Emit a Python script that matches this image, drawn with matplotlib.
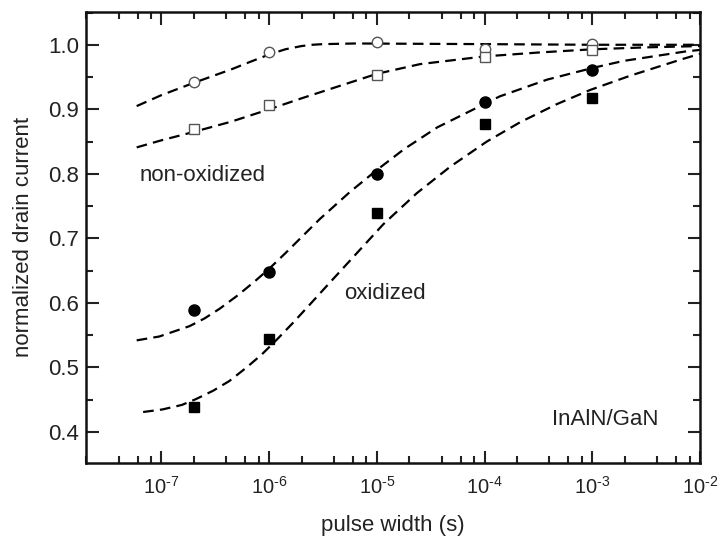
import numpy as np
import matplotlib
matplotlib.use("Agg")
import matplotlib.pyplot as plt
from matplotlib.ticker import LogLocator, MultipleLocator

plt.rcParams['font.family'] = ['Liberation Sans', 'DejaVu Sans']
plt.rcParams['mathtext.fontset'] = 'custom'
plt.rcParams['mathtext.rm'] = 'Liberation Sans'

# measured pulse widths (s)
pulse = [2e-7, 1e-6, 1e-5, 1e-4, 1e-3]

# normalized drain current
nonox_circ = [0.943, 0.989, 1.004, 0.993, 1.001]
nonox_sq = [0.869, 0.907, 0.953, 0.981, 0.992]
ox_circ = [0.589, 0.648, 0.800, 0.912, 0.961]
ox_sq = [0.439, 0.544, 0.739, 0.877, 0.918]

# fit curves (log10 of pulse width, current)
fit1_logt = [-7.23, -7.0, -6.7, -6.5, -6.35, -6.2, -6.0, -5.85, -5.7, -5.6, -5.5, -5.2, -4.0, -3.0, -2.0]
fit1_i = [0.905, 0.922, 0.941, 0.953, 0.962, 0.972, 0.985, 0.993, 0.998, 1.000, 1.001, 1.002, 1.001, 1.000, 1.000]

fit2_logt = [-7.23, -7.0, -6.7, -6.35, -6.0, -5.7, -5.35, -5.0, -4.6, -4.0, -3.5, -3.0, -2.5, -2.0]
fit2_i = [0.841, 0.852, 0.865, 0.881, 0.900, 0.917, 0.936, 0.955, 0.970, 0.982, 0.988, 0.993, 0.996, 0.998]

fit3_logt = [-7.23, -7.02, -6.74, -6.6, -6.46, -6.29, -6.13, -6.0, -5.85, -5.53, -5.25, -5.0, -4.75,
             -4.44, -3.86, -3.42, -3.0, -2.71, -2.12, -2.0]
fit3_i = [0.542, 0.548, 0.564, 0.576, 0.591, 0.612, 0.634, 0.653, 0.677, 0.730, 0.772, 0.806, 0.838,
          0.872, 0.920, 0.946, 0.964, 0.975, 0.990, 0.992]

fit4_logt = [-7.17, -6.99, -6.81, -6.68, -6.52, -6.37, -6.21, -6.07, -5.93, -5.78, -5.62, -5.5, -5.22,
             -4.94, -4.63, -4.32, -3.98, -3.67, -3.33, -3.02, -2.65, -2.18, -2.0]
fit4_i = [0.431, 0.435, 0.442, 0.451, 0.464, 0.479, 0.500, 0.520, 0.543, 0.569, 0.598, 0.620, 0.671,
          0.722, 0.770, 0.811, 0.850, 0.880, 0.908, 0.930, 0.952, 0.977, 0.986]

xtick_vals = [1e-7, 1e-6, 1e-5, 1e-4, 1e-3, 1e-2]
xtick_labels = [r'$10^{\text{-}7}$', r'$10^{\text{-}6}$', r'$10^{\text{-}5}$',
                r'$10^{\text{-}4}$', r'$10^{\text{-}3}$', r'$10^{\text{-}2}$']

fig = plt.figure(figsize=(7.18, 5.39), dpi=100)
ax = fig.add_axes([0.12, 0.141, 0.855, 0.837])

dash = (0, (4.8, 2.8))
for lt, yi in [(fit1_logt, fit1_i), (fit2_logt, fit2_i), (fit3_logt, fit3_i), (fit4_logt, fit4_i)]:
    ax.plot(10.0 ** np.array(lt), yi, color='black', lw=1.6, linestyle=dash, zorder=2)

ax.plot(pulse, nonox_circ, 'o', ms=7.5, mfc='white', mec='#555555', mew=1.0, ls='none', zorder=3)
ax.plot(pulse, nonox_sq, 's', ms=7, mfc='white', mec='#555555', mew=1.0, ls='none', zorder=3)
ax.plot(pulse, ox_circ, 'o', ms=8, mfc='black', mec='black', ls='none', zorder=3)
ax.plot(pulse, ox_sq, 's', ms=7, mfc='black', mec='black', ls='none', zorder=3)

ax.set_xscale('log')
ax.set_xlim(2e-8, 1e-2)
ax.set_ylim(0.352, 1.051)

ax.set_xticks(xtick_vals)
ax.set_xticklabels(xtick_labels)
ax.xaxis.set_minor_locator(LogLocator(base=10, subs=[2, 4, 6, 8], numticks=20))
ax.yaxis.set_major_locator(MultipleLocator(0.1))
ax.yaxis.set_minor_locator(MultipleLocator(0.05))
ax.yaxis.set_major_formatter(plt.FormatStrFormatter('%.1f'))

ax.tick_params(which='both', direction='in', top=True, right=True, width=1.5, colors='#222222')
ax.tick_params(axis='y', which='major', length=9, pad=5, labelsize=16)
ax.tick_params(axis='x', which='major', length=9, pad=9, labelsize=14.5)
ax.tick_params(which='minor', length=5)
ax.tick_params(axis='x', which='minor', labelbottom=False)
for s in ax.spines.values():
    s.set_linewidth(1.8)
    s.set_color('#111111')

ax.set_xlabel('pulse width (s)', fontsize=16, labelpad=13, color='#222222')
ax.set_ylabel('normalized drain current', fontsize=16, labelpad=10, color='#222222')

ax.text(6.3e-8, 0.798, 'non-oxidized', fontsize=16, va='center', color='#222222')
ax.text(5.0e-6, 0.615, 'oxidized', fontsize=16, va='center', color='#222222')
ax.text(4.2e-4, 0.419, 'InAlN/GaN', fontsize=16, va='center', color='#222222')

fig.savefig('out.png', dpi=100)
